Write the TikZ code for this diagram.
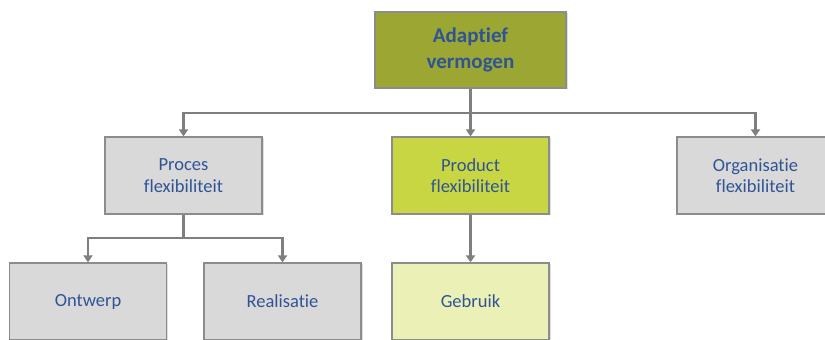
\documentclass[tikz,border=0pt]{standalone}
\usepackage{fontspec}
\setmainfont{Carlito}[Ligatures={NoCommon,NoRequired,NoContextual}]
\usepackage{xcolor}
\usetikzlibrary{arrows.meta,shadows}
\definecolor{tekstblauw}{HTML}{2F5496}
\definecolor{olijf}{HTML}{9BA633}
\definecolor{limoen}{HTML}{C9D644}
\definecolor{lichtlimoen}{HTML}{EBF1B6}
\definecolor{grijsvlak}{HTML}{D9D9D9}
\definecolor{grijsrand}{HTML}{8C8C8C}
\definecolor{lijngrijs}{HTML}{7F7F7F}
\tikzset{
	blok/.style={rectangle, draw=grijsrand, line width=1.2pt, fill=grijsvlak, text=tekstblauw,
		minimum width=157pt, minimum height=77pt, align=center, inner sep=0pt,
		font=\fontsize{18.5}{21.5}\selectfont,
		drop shadow={shadow xshift=1.5pt, shadow yshift=-1.5pt, opacity=0.25}},
	kopblok/.style={blok, fill=olijf, minimum width=191pt, minimum height=76pt,
		font=\fontsize{21}{26}\selectfont\bfseries},
	verbinding/.style={draw=lijngrijs, line width=2.2pt, -{Triangle[width=9pt,length=7pt]}}
}
\begin{document}
\begin{tikzpicture}[x=1pt,y=1pt]
	\useasboundingbox (0,0) rectangle (825,340);
	% bovenste niveau
	\node[kopblok] (adaptief) at (470.5,290) {Adaptief\\vermogen};
	% tweede niveau
	\node[blok] (proces) at (183.5,164.5) {Proces\\flexibiliteit};
	\node[blok, fill=limoen] (product) at (470.5,164.5) {Product\\flexibiliteit};
	\node[blok] (organisatie) at (755.5,164.5) {Organisatie\\flexibiliteit};
	% derde niveau
	\node[blok] (ontwerp) at (88,38.5) {Ontwerp};
	\node[blok] (realisatie) at (282.5,38.5) {Realisatie};
	\node[blok, fill=lichtlimoen] (gebruik) at (470.5,38.5) {Gebruik};
	% knooppunten
	\coordinate (splitsing) at (470.5,227);
	\coordinate (processplitsing) at (183.5,102);
	% verbindingen
	\draw[verbinding] (adaptief.south) -- (splitsing) -| (proces.north);
	\draw[verbinding] (splitsing) -| (organisatie.north);
	\draw[verbinding] (adaptief.south) -- (product.north);
	\draw[verbinding] (proces.south) -- (processplitsing) -| (ontwerp.north);
	\draw[verbinding] (processplitsing) -| (realisatie.north);
	\draw[verbinding] (product.south) -- (gebruik.north);
\end{tikzpicture}
\end{document}
